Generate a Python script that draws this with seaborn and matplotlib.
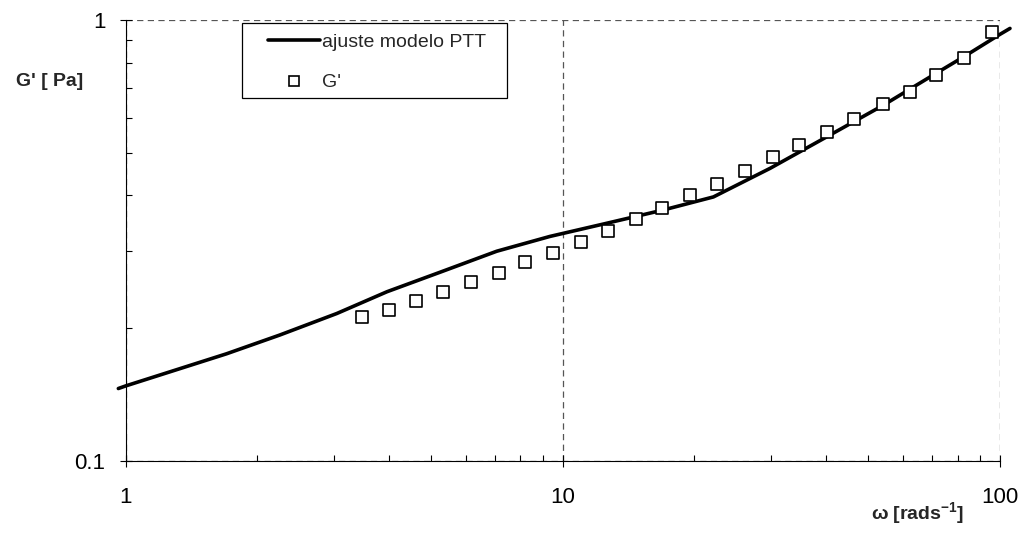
import matplotlib
matplotlib.use("Agg")
import matplotlib.pyplot as plt
import seaborn as sns
import numpy as np
import pandas as pd
from matplotlib.ticker import LogLocator, NullFormatter, FixedLocator, FixedFormatter
from matplotlib.lines import Line2D
from matplotlib.patches import Rectangle

# ---- data ----
w_fit = [0.962, 1.0, 1.70, 2.25, 3.04, 3.96, 5.24, 7.06, 9.34, 12.6, 17.0,
         22.1, 29.8, 40.1, 54.1, 70.3, 83.9, 100.0, 105.4]
g_fit = [0.146, 0.148, 0.175, 0.193, 0.216, 0.242, 0.268, 0.299, 0.323, 0.346, 0.371,
         0.397, 0.461, 0.543, 0.641, 0.750, 0.833, 0.928, 0.957]

w_exp = [3.47, 4.01, 4.61, 5.33, 6.16, 7.14, 8.19, 9.48, 11.0, 12.7, 14.7, 16.9,
         19.5, 22.5, 26.1, 30.2, 34.7, 40.1, 46.4, 53.9, 62.2, 71.3, 82.7, 95.8]
g_exp = [0.212, 0.220, 0.231, 0.242, 0.254, 0.267, 0.283, 0.297, 0.314, 0.333, 0.353, 0.374,
         0.401, 0.425, 0.455, 0.488, 0.522, 0.556, 0.596, 0.644, 0.687, 0.750, 0.818, 0.939]

x_ticks = [1, 10, 100]
x_ticklabels = ["1", "10", "100"]
y_ticks = [0.1, 1]
y_ticklabels = ["0.1", "1"]

fit_label = "ajuste modelo PTT"
exp_label = "G'"

# ---- style ----
sns.set_theme(style="white")
plt.rcParams['font.family'] = ['Liberation Sans', 'DejaVu Sans']
plt.rcParams['mathtext.fontset'] = 'custom'
plt.rcParams['mathtext.rm'] = 'Liberation Sans'
plt.rcParams['mathtext.bf'] = 'Liberation Sans:bold'

fig = plt.figure(figsize=(10.27, 5.36), dpi=100)
L, R, T, B = 125.7, 1000.0, 20.0, 461.0
W, H = 1027.0, 536.0
ax = fig.add_axes([L / W, 1 - B / H, (R - L) / W, (B - T) / H])

df_fit = pd.DataFrame({"w": w_fit, "g": g_fit})
df_exp = pd.DataFrame({"w": w_exp, "g": g_exp})

sns.lineplot(data=df_fit, x="w", y="g", ax=ax, color="black", linewidth=2.6,
             sort=False, estimator=None, clip_on=False, zorder=3)
sns.scatterplot(data=df_exp, x="w", y="g", ax=ax, marker="s", s=85,
                facecolor="white", edgecolor="black", linewidth=1.2, zorder=4)

ax.set_xscale("log")
ax.set_yscale("log")
ax.set_xlim(1, 100)
ax.set_ylim(0.1, 1)

ax.xaxis.set_major_locator(FixedLocator(x_ticks))
ax.xaxis.set_major_formatter(FixedFormatter(x_ticklabels))
ax.yaxis.set_major_locator(FixedLocator(y_ticks))
ax.yaxis.set_major_formatter(FixedFormatter(y_ticklabels))
ax.xaxis.set_minor_locator(LogLocator(base=10, subs=np.arange(2, 10)))
ax.yaxis.set_minor_locator(LogLocator(base=10, subs=np.arange(2, 10)))
ax.xaxis.set_minor_formatter(NullFormatter())
ax.yaxis.set_minor_formatter(NullFormatter())

ax.tick_params(axis="both", which="major", direction="inout", length=9, width=0.8,
               color="black", labelsize=16, labelcolor="black")
ax.tick_params(axis="x", which="major", pad=14)
ax.tick_params(axis="y", which="major", pad=10)
ax.tick_params(axis="both", which="minor", direction="in", length=4, width=0.8, color="black")
ax.xaxis.set_ticks_position("bottom")
ax.yaxis.set_ticks_position("left")

ax.grid(True, which="major", color="#555555", linestyle=(0, (5, 3.5)), linewidth=0.9)
for s in ["top", "right"]:
    ax.spines[s].set_visible(False)
for s in ["left", "bottom"]:
    ax.spines[s].set_color("black")
    ax.spines[s].set_linewidth(0.8)
ax.set_xlabel("")
ax.set_ylabel("")

# legend frame (drawn separately) and legend content
fx0 = (241.7 - L) / (R - L)
fx1 = (507.3 - L) / (R - L)
fy0 = (B - 97.7) / (B - T)
fy1 = (B - 23.3) / (B - T)
frame = Rectangle((fx0, fy0), fx1 - fx0, fy1 - fy0, transform=ax.transAxes,
                  facecolor="white", edgecolor="black", linewidth=0.9, zorder=5)
ax.add_patch(frame)

handles = [Line2D([0], [0], color="black", linewidth=2.6),
           Line2D([0], [0], marker="s", linestyle="none", markersize=7,
                  markerfacecolor="white", markeredgecolor="black", markeredgewidth=1.2)]
lx = (268 - L) / (R - L)
ly = (B - 33) / (B - T)
leg = ax.legend(handles, [fit_label, exp_label], loc="upper left",
                bbox_to_anchor=(lx, ly), frameon=False,
                fontsize=14, handlelength=2.68, handletextpad=0.1,
                labelspacing=1.19, borderpad=0.0, borderaxespad=0.0)
leg.set_zorder(6)

fig.text(50 / W, 1 - 82 / H, "G' [ Pa]", fontsize=14, fontweight="bold",
         ha="center", va="center")
fig.text(918 / W, 1 - 514 / H, r"ω [rads$^{\mathbf{-1}}$]", fontsize=14,
         fontweight="bold", ha="center", va="center")

fig.savefig("out.png", dpi=100)
